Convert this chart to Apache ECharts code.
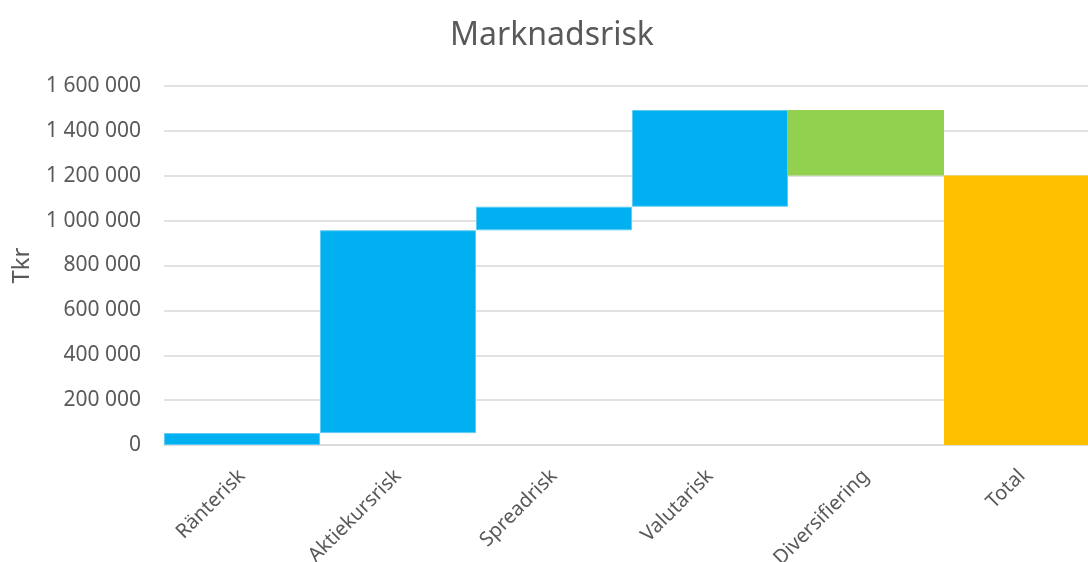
<!DOCTYPE html>
<html><head><meta charset="utf-8">
<script src="https://cdn.jsdelivr.net/npm/echarts@6/dist/echarts.min.js"></script>
<style>html,body{margin:0;padding:0;background:#fff}#c{width:1088px;height:562px}</style>
</head><body><div id="c"></div>
<script>
const title = 'Marknadsrisk';
const yAxisName = 'Tkr';
const categories = ['Ränterisk', 'Aktiekursrisk', 'Spreadrisk', 'Valutarisk', 'Diversifiering', 'Total'];
const steps = [53000, 904000, 105000, 431000, -292000];
const yTicks = [0, 200000, 400000, 600000, 800000, 1000000, 1200000, 1400000, 1600000];
const colors = {up: '#00B0F0', down: '#92D050', total: '#FFC000'};

const base = [], heights = [], itemColors = [];
let run = 0;
steps.forEach(v => {
  const next = run + v;
  base.push(Math.min(run, next));
  heights.push(Math.abs(v));
  itemColors.push(v >= 0 ? 'up' : 'down');
  run = next;
});
base.push(0); heights.push(run); itemColors.push('total');

const fmt = v => String(v).replace(/\B(?=(\d{3})+(?!\d))/g, ' ');
const font = 'Noto Sans';
const chart = echarts.init(document.getElementById('c'), null, {renderer: 'canvas'});
chart.setOption({
  animation: false,
  backgroundColor: '#fff',
  title: {text: title, left: 547, textAlign: 'center', top: 15,
    textStyle: {fontFamily: font, fontSize: 32, fontWeight: 'normal', color: '#595959'}},
  grid: {left: 164, top: 86, width: 936, height: 359, containLabel: false, outerBoundsMode: 'none'},
  xAxis: {type: 'category', data: categories,
    axisLine: {show: true, lineStyle: {color: '#d9d9d9', width: 1.5}},
    axisTick: {show: false},
    axisLabel: {rotate: 45, margin: 28, fontFamily: font, fontSize: 20, color: '#595959', interval: 0}},
  yAxis: {type: 'value', min: yTicks[0], max: yTicks[yTicks.length - 1], interval: yTicks[1] - yTicks[0],
    name: yAxisName, nameLocation: 'middle', nameRotate: 90, nameGap: 130,
    nameTextStyle: {fontFamily: font, fontSize: 24, color: '#595959'},
    axisLine: {show: false}, axisTick: {show: false},
    axisLabel: {margin: 23, fontFamily: font, fontSize: 21, color: '#595959', formatter: fmt},
    splitLine: {lineStyle: {color: '#d9d9d9', width: 1.5}}},
  series: [
    {type: 'bar', stack: 'w', data: base, itemStyle: {color: 'transparent'}, barCategoryGap: '0%', silent: true},
    {type: 'bar', stack: 'w', barCategoryGap: '0%',
      data: heights.map((h, i) => ({value: h, itemStyle: {color: colors[itemColors[i]],
        borderColor: itemColors[i] === 'up' ? '#5ccbf5' : colors[itemColors[i]], borderWidth: itemColors[i] === 'up' ? 1 : 0}}))}
  ]
});
</script></body></html>
